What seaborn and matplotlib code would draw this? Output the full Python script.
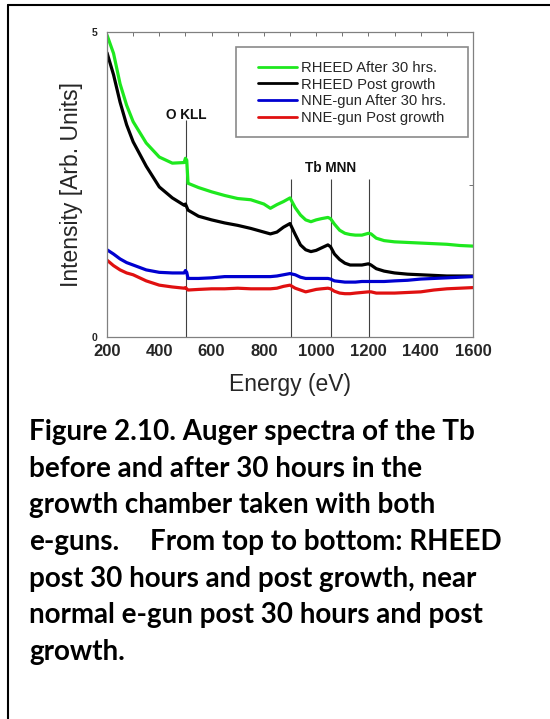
import numpy as np
import pandas as pd
import matplotlib
matplotlib.use("Agg")
import matplotlib.pyplot as plt
from matplotlib.lines import Line2D
from matplotlib.patches import Rectangle
from matplotlib.ticker import MultipleLocator
import seaborn as sns

# Auger spectra (intensity in arbitrary units vs. electron energy in eV)
energy = [200, 225, 250, 275, 300, 350, 400, 450, 495, 500, 505, 510, 550, 600,
          650, 700, 750, 800, 825, 850, 875, 900, 920, 940, 960, 980, 1000, 1020,
          1045, 1055, 1070, 1090, 1110, 1130, 1150, 1175, 1200, 1210, 1230, 1260,
          1300, 1350, 1400, 1450, 1500, 1550, 1600]

rheed_after_30h = [4.95, 4.65, 4.15, 3.80, 3.53, 3.18, 2.95, 2.85, 2.86, 2.93, 2.90,
                   2.52, 2.45, 2.38, 2.32, 2.27, 2.25, 2.18, 2.11, 2.17, 2.22, 2.28,
                   2.12, 2.00, 1.92, 1.89, 1.92, 1.94, 1.96, 1.94, 1.85, 1.75, 1.70,
                   1.68, 1.67, 1.67, 1.70, 1.69, 1.62, 1.58, 1.56, 1.55, 1.54, 1.53,
                   1.52, 1.50, 1.49]

rheed_post_growth = [4.66, 4.30, 3.85, 3.48, 3.20, 2.80, 2.46, 2.28, 2.16, 2.18, 2.13,
                     2.08, 1.98, 1.92, 1.87, 1.83, 1.78, 1.72, 1.69, 1.72, 1.80, 1.86,
                     1.68, 1.51, 1.43, 1.40, 1.42, 1.46, 1.51, 1.48, 1.36, 1.27, 1.21,
                     1.18, 1.18, 1.18, 1.20, 1.18, 1.12, 1.08, 1.05, 1.03, 1.02, 1.01,
                     1.00, 1.00, 1.00]

nne_after_30h = [1.43, 1.36, 1.28, 1.22, 1.18, 1.10, 1.06, 1.05, 1.05, 1.09, 1.06,
                 0.96, 0.96, 0.97, 0.99, 0.99, 0.99, 0.99, 0.99, 1.00, 1.02, 1.04,
                 1.02, 0.98, 0.96, 0.96, 0.96, 0.96, 0.96, 0.95, 0.92, 0.91, 0.90,
                 0.90, 0.90, 0.91, 0.91, 0.91, 0.91, 0.91, 0.92, 0.93, 0.95, 0.96,
                 0.97, 0.98, 0.99]

nne_post_growth = [1.26, 1.17, 1.10, 1.05, 1.02, 0.92, 0.85, 0.82, 0.80, 0.81, 0.79,
                   0.77, 0.78, 0.79, 0.79, 0.80, 0.79, 0.79, 0.79, 0.80, 0.83, 0.85,
                   0.80, 0.77, 0.74, 0.76, 0.78, 0.79, 0.80, 0.79, 0.75, 0.72, 0.71,
                   0.71, 0.72, 0.73, 0.74, 0.74, 0.72, 0.72, 0.72, 0.73, 0.74, 0.77,
                   0.79, 0.80, 0.81]

series_names = ["RHEED After 30 hrs.", "RHEED Post growth",
                "NNE-gun After 30 hrs.", "NNE-gun Post growth"]
series_colors = ["#1ee81e", "#000000", "#0000d0", "#e01010"]

# Peak marker lines: energy and height of each line
okll_energy = [503]
okll_top = [3.56]
tb_mnn_energy = [905, 1057, 1203]
tb_mnn_top = [2.59, 2.59, 2.59]

x_ticks = [200, 400, 600, 800, 1000, 1200, 1400, 1600]
y_ticks = [0, 2.5, 5]
y_tick_labels = ["0", "", "5"]

caption_lines = [
    "Figure 2.10. Auger spectra of the Tb",
    "before and after 30 hours in the",
    "growth chamber taken with both",
    None,
    "post 30 hours and post growth, near",
    "normal e-gun post 30 hours and post",
    "growth.",
]
caption_line4_left = "e-guns."
caption_line4_right = "From top to bottom: RHEED"

# ---- build long-form table ----
frames = []
for name, vals in zip(series_names,
                      [rheed_after_30h, rheed_post_growth, nne_after_30h, nne_post_growth]):
    frames.append(pd.DataFrame({"Energy": energy, "Intensity": vals, "Spectrum": name}))
df = pd.concat(frames, ignore_index=True)

sns.set_theme(style="white")
plt.rcParams["font.family"] = ["Liberation Sans", "DejaVu Sans"]

W, H = 550, 719
fig = plt.figure(figsize=(W / 100, H / 100), dpi=100)
ax = fig.add_axes([107 / W, 1 - 337 / H, (473 - 107) / W, (337 - 32) / H])

sns.lineplot(data=df, x="Energy", y="Intensity", hue="Spectrum",
             hue_order=series_names, palette=series_colors,
             linewidth=2.3, legend=False, ax=ax, sort=False)

# peak marker lines
ax.vlines(okll_energy, 0, okll_top, color="#404040", linewidth=0.8, zorder=1)
ax.vlines(tb_mnn_energy, 0, tb_mnn_top, color="#404040", linewidth=0.8, zorder=1)
ax.text(okll_energy[0], okll_top[0] - 0.03, "O KLL", ha="center", va="bottom",
        fontsize=9.8, fontweight="bold", color="#111111")
ax.text(tb_mnn_energy[1], tb_mnn_top[1] + 0.06, "Tb MNN", ha="center", va="bottom",
        fontsize=9.8, fontweight="bold", color="#111111")

ax.set_xlim(200, 1600)
ax.set_ylim(0, 5)
ax.set_xticks(x_ticks)
ax.set_xticklabels([str(t) for t in x_ticks], fontsize=12, fontweight="bold")
ax.xaxis.set_minor_locator(MultipleLocator(100))
ax.set_yticks(y_ticks)
ax.set_yticklabels(y_tick_labels, fontsize=7.5, fontweight="bold")
ax.tick_params(axis="both", which="both", direction="in", length=3, width=0.7,
               color="#707070", top=True, right=True)
ax.tick_params(axis="x", which="major", pad=5)
ax.tick_params(axis="y", which="major", pad=7)

for sp in ax.spines.values():
    sp.set_color("#808080")
    sp.set_linewidth(0.9)

ax.set_xlabel("Energy (eV)", fontsize=16.5, labelpad=10)
ax.set_ylabel("Intensity [Arb. Units]", fontsize=16.5, labelpad=6)

# legend box and entries
ax.add_patch(Rectangle((0.352, 0.656), 0.634, 0.295, transform=ax.transAxes,
                       facecolor="white", edgecolor="#8a8a8a", linewidth=1.2, zorder=4))
handles = [Line2D([0], [0], color=c, linewidth=2) for c in series_colors]
leg = ax.legend(handles, series_names, loc="upper left",
                bbox_to_anchor=((258 - 107) / 366, (337 - 61) / 305),
                frameon=False, fontsize=10.6, handlelength=2.65, handletextpad=0.28,
                labelspacing=0.18, borderpad=0, borderaxespad=0)
leg.set_zorder(5)

# caption
cap_font = dict(family=["Lato", "DejaVu Sans"], fontweight="bold", fontsize=20,
                color="black", va="baseline")
baselines = [440, 476.7, 513.3, 550, 586.7, 623.3, 660]
for line, yb in zip(caption_lines, baselines):
    if line is None:
        fig.text(29 / W, 1 - yb / H, caption_line4_left, ha="left", **cap_font)
        fig.text(502 / W, 1 - yb / H, caption_line4_right, ha="right", **cap_font)
    else:
        fig.text(29 / W, 1 - yb / H, line, ha="left", **cap_font)

# page frame
fig.add_artist(Line2D([8 / W, 1.0], [1 - 4.7 / H, 1 - 4.7 / H], color="black",
                      linewidth=1.5, transform=fig.transFigure))
fig.add_artist(Line2D([8 / W, 8 / W], [0.0, 1 - 4.7 / H], color="black",
                      linewidth=1.5, transform=fig.transFigure))

fig.savefig("out.png", dpi=100)
